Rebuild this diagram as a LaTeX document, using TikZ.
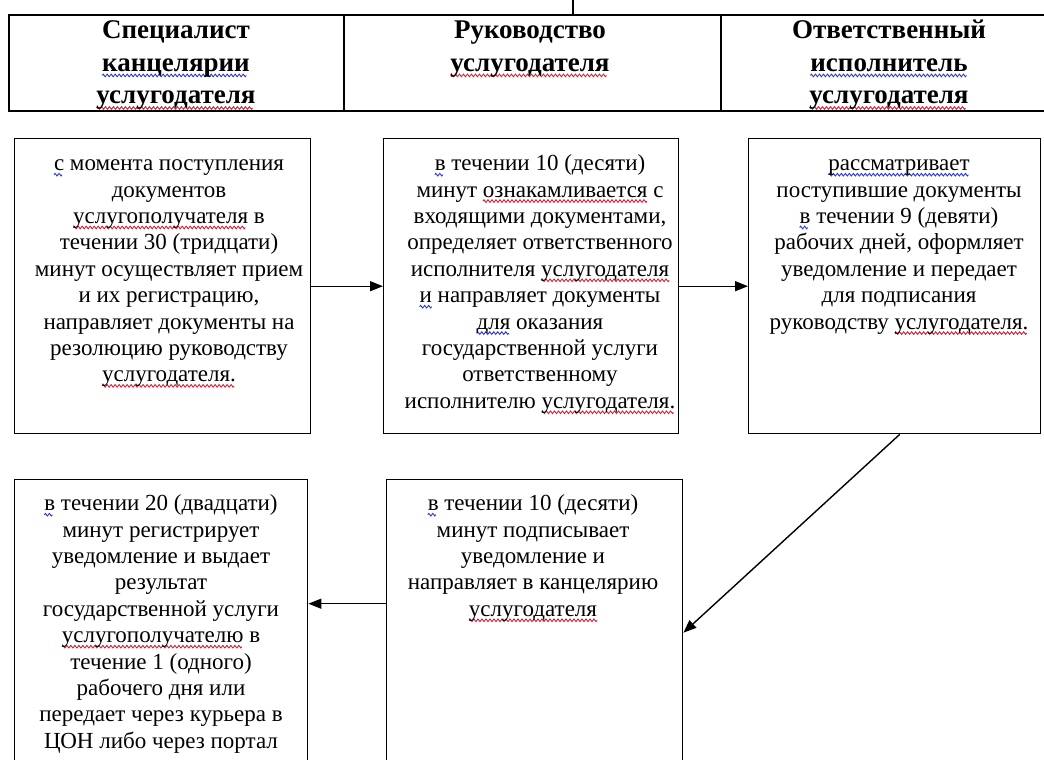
\documentclass[tikz,border=0pt]{standalone}
\usepackage{fontspec}
\setmainfont{Liberation Serif}
\usetikzlibrary{arrows.meta}
\definecolor{spellred}{HTML}{D0203A}
\definecolor{spellblue}{HTML}{2A36C8}
% one period of a wavy underline, repeated with \leaders
\newsavebox\rwavebox
\newsavebox\bwavebox
\newsavebox\wordbox
\newcommand\wavetile[1]{\begin{pgfpicture}%
  \pgfpathrectangle{\pgfpoint{0pt}{-1.5pt}}{\pgfpoint{4pt}{3pt}}%
  \pgfusepath{use as bounding box}%
  \pgfsetlinewidth{0.9pt}\pgfsetstrokecolor{#1}%
  \pgfpathmoveto{\pgfpoint{0pt}{0pt}}%
  \pgfpathsine{\pgfpoint{1pt}{1.3pt}}%
  \pgfpathcosine{\pgfpoint{1pt}{-1.3pt}}%
  \pgfpathsine{\pgfpoint{1pt}{-1.3pt}}%
  \pgfpathcosine{\pgfpoint{1pt}{1.3pt}}%
  \pgfusepath{stroke}%
  \end{pgfpicture}}
\newcommand\rw[1]{\sbox\wordbox{#1}%
  \rlap{\lower5.5pt\hbox to\wd\wordbox{\leaders\copy\rwavebox\hfill}}\usebox\wordbox}
\newcommand\bw[1]{\sbox\wordbox{#1}%
  \rlap{\lower5.5pt\hbox to\wd\wordbox{\leaders\copy\bwavebox\hfill}}\usebox\wordbox}
\tikzset{
  cell/.style={draw, line width=1.7pt, anchor=north west, inner sep=0pt},
  box/.style={draw, line width=1.4pt, anchor=north west, inner sep=0pt},
  head/.style={anchor=north, align=center, inner sep=0pt,
    font=\fontsize{27}{32.5}\selectfont\bfseries},
  body/.style={anchor=north, align=center, inner sep=0pt,
    font=\fontsize{23}{26.4}\selectfont},
  arr/.style={line width=1.4pt, -{Triangle[length=13pt,width=10pt]}}
}
\begin{document}
\sbox\rwavebox{\wavetile{spellred}}%
\sbox\bwavebox{\wavetile{spellblue}}%
\begin{tikzpicture}[x=1pt,y=-1pt]
\useasboundingbox (0,0) rectangle (1044,760);
\clip (0,0) rectangle (1044,760);

% header row
\node[cell, minimum width=335pt, minimum height=96pt] (h1) at (8,14) {};
\node[cell, minimum width=377pt, minimum height=96pt] (h2) at (343,14) {};
\node[cell, minimum width=340pt, minimum height=96pt] (h3) at (720,14) {};
\coordinate (tick) at (573,0);
\draw[line width=1.2pt] (tick) -- (tick |- h2.north);

\node[head] (th1) at (176,16) {\strut Специалист\\ \bw{канцелярии}\\ \rw{услугодателя}};
\node[head] (th2) at (530,16) {\strut Руководство\\ \rw{услугодателя}};
\node[head] (th3) at (889,16) {\strut Ответственный\\ \bw{исполнитель}\\ \rw{услугодателя}};

% first row of steps
\node[box, minimum width=296pt, minimum height=295pt] (b1) at (14,138) {};
\node[box, minimum width=295pt, minimum height=295pt] (b2) at (383,138) {};
\node[box, minimum width=292pt, minimum height=295pt] (b3) at (748,138) {};

\node[body] (t1) at (169,152) {\strut\bw{с} момента поступления\\ документов\\
  \rw{услугополучателя} в\\ течении 30 (тридцати)\\ минут осуществляет прием\\
  и их регистрацию,\\ направляет документы на\\ резолюцию руководству\\
  \rw{услугодателя.}};
\node[body] (t2) at (540,152) {\strut\bw{в} течении 10 (десяти)\\ минут \rw{ознакамливается} с\\
  входящими документами,\\ определяет ответственного\\ исполнителя \rw{услугодателя}\\
  \bw{и} направляет документы\\ \bw{для} оказания\\ государственной услуги\\
  ответственному\\ исполнителю \rw{услугодателя.}};
\node[body] (t3) at (899,152) {\strut\bw{рассматривает}\\ поступившие документы\\
  \bw{в} течении 9 (девяти)\\ рабочих дней, оформляет\\ уведомление и передает\\
  для подписания\\ руководству \rw{услугодателя.}};

% second row of steps
\node[box, minimum width=293pt, minimum height=306pt] (b4) at (14,479) {};
\node[box, minimum width=296pt, minimum height=306pt] (b5) at (386,479) {};

\node[body] (t4) at (161,492) {\strut\bw{в} течении 20 (двадцати)\\ минут регистрирует\\
  уведомление и выдает\\ результат\\ государственной услуги\\
  \rw{услугополучателю} в\\ течение 1 (одного)\\ рабочего дня или\\
  передает через курьера в\\ ЦОН либо через портал};
\node[body] (t5) at (533,492) {\strut\bw{в} течении 10 (десяти)\\ минут подписывает\\
  уведомление и\\ направляет в канцелярию\\ \rw{услугодателя}};

% connectors
\draw[arr] (b1) -- (b2);
\draw[arr] (b2) -- (b3);
\draw[arr] ([xshift=5pt]b3.south) -- (b5.east);
\draw[arr] ([yshift=29pt]b5.west) -- ([yshift=29pt]b4.east);
\end{tikzpicture}
\end{document}
